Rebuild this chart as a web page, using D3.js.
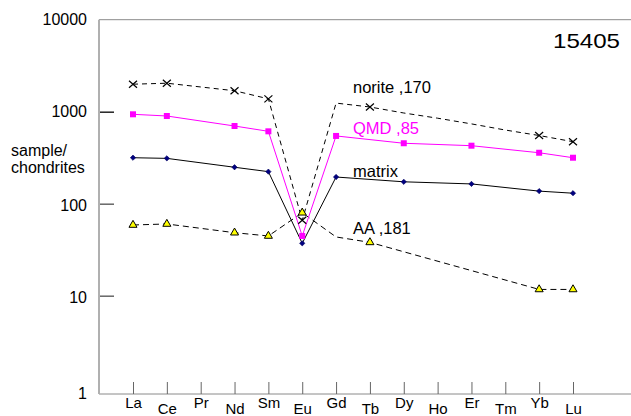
<!DOCTYPE html>
<html>
<head>
<meta charset="utf-8">
<script src="https://cdn.jsdelivr.net/npm/d3@7"></script>
<style>
  html, body { margin: 0; padding: 0; background: #fff; }
  svg { display: block; font-family: "Liberation Sans", Arial, sans-serif; }
</style>
</head>
<body>
<svg id="chart" width="631" height="416"></svg>
<script>
// ---- data ----
const elements = ["La","Ce","Pr","Nd","Sm","Eu","Gd","Tb","Dy","Ho","Er","Tm","Yb","Lu"];
const yTickValues = [1, 10, 100, 1000, 10000];
const yTickLabels = ["1", "10", "100", "1000", "10000"];

const noriteValues = [1990, 2040, null, 1690, 1380, 66, 1240, 1125, 968, 850, 737, 632, 551, 472];
const noriteMarked = [1, 1, 0, 1, 1, 1, 0, 1, 0, 0, 0, 0, 1, 1];
const qmdValues    = [937, 898, null, 699, 612, 44.6, 545, null, 454, null, 427, null, 358, 316];
const matrixValues = [316, 311, null, 249, 223, 37.1, 195, null, 173, null, 164, null, 137, 130];
const aaValues     = [58.7, 60.2, null, 48.4, 44.6, 79.8, 43.5, 38.0, null, null, null, null, 11.7, 11.7];
const aaMarked     = [1, 1, 0, 1, 1, 1, 0, 1, 0, 0, 0, 0, 1, 1];

const seriesLabels = ["norite ,170", "QMD ,85", "matrix", "AA ,181"];
const sampleName = "15405";
const yTitle = ["sample/", "chondrites"];

// ---- layout ----
const svg = d3.select("#chart");
const plotLeft = 99, plotTop = 19.7, plotBottom = 394, plotRight = 631;

const x = d3.scalePoint().domain(elements).range([133, 573]);
const y = d3.scaleLog().domain([1, 10000]).range([387.7, plotTop]);

// frame lines
svg.append("line").attr("x1", plotLeft).attr("x2", plotRight).attr("y1", plotTop).attr("y2", plotTop)
  .attr("stroke", "#8a8a8a").attr("stroke-width", 1);
svg.append("line").attr("x1", plotLeft).attr("x2", plotRight).attr("y1", plotBottom).attr("y2", plotBottom)
  .attr("stroke", "#8a8a8a").attr("stroke-width", 1);

// y axis
const yAxis = d3.axisLeft(y).tickValues(yTickValues)
  .tickFormat((d, i) => yTickLabels[i]).tickSize(-15).tickPadding(12);
const gy = svg.append("g").attr("transform", `translate(${plotLeft},0)`).call(yAxis);
gy.select(".domain").remove();
gy.selectAll(".tick line")
  .attr("stroke", d => d === 1000 ? "#222" : "#666")
  .attr("stroke-width", 1.5)
  .attr("display", d => (d === 1 || d === 10000) ? "none" : null);
gy.selectAll(".tick text")
  .attr("font-size", 16).attr("font-family", "Liberation Sans, Arial, sans-serif")
  .attr("fill", "#000")
  .attr("y", d => d === 1 ? (plotBottom - y(1) - 1) : (d === 10 || d === 100 ? 2 : 0));
svg.append("line").attr("x1", plotLeft).attr("x2", plotLeft).attr("y1", plotTop).attr("y2", plotBottom)
  .attr("stroke", "#b0b0b0").attr("stroke-width", 2);

// x axis
const xAxis = d3.axisBottom(x).tickSize(-12).tickPadding(0);
const gx = svg.append("g").attr("transform", `translate(0,${plotBottom})`).call(xAxis);
gx.select(".domain").remove();
gx.selectAll(".tick line").attr("stroke", "#666").attr("stroke-width", 1);
gx.selectAll(".tick text")
  .attr("font-size", 15).attr("font-family", "Liberation Sans, Arial, sans-serif")
  .attr("fill", "#000").attr("dy", null)
  .attr("y", (d, i) => i % 2 === 0 ? 14 : 20);

// y title
svg.append("text").attr("x", 11).attr("y", 156).attr("font-size", 16).text(yTitle[0]);
svg.append("text").attr("x", 11).attr("y", 173).attr("font-size", 16).text(yTitle[1]);

// sample name
svg.append("text").attr("x", 553).attr("y", 47.5).attr("font-size", 21)
  .attr("textLength", 67).attr("lengthAdjust", "spacingAndGlyphs").text(sampleName);

// lines
function pts(values) {
  return values.map((v, i) => ({ k: elements[i], v, i })).filter(d => d.v != null);
}
const line = d3.line().x(d => x(d.k)).y(d => y(d.v));

function drawLine(values, color, dash) {
  svg.append("path").datum(pts(values)).attr("d", line)
    .attr("fill", "none").attr("stroke", color).attr("stroke-width", 1)
    .attr("stroke-dasharray", dash || null);
}
drawLine(noriteValues, "#000", "5,4");
drawLine(aaValues, "#000", "6,4");
drawLine(matrixValues, "#000", null);
drawLine(qmdValues, "#ff00ff", null);

// markers
// norite crosses
svg.append("g").selectAll("path")
  .data(pts(noriteValues).filter(d => noriteMarked[d.i]))
  .join("path")
  .attr("transform", d => `translate(${x(d.k)},${y(d.v)})`)
  .attr("d", "M-4,-3.5L4,3.5M-4,3.5L4,-3.5")
  .attr("stroke", "#000").attr("stroke-width", 1.2).attr("fill", "none");

// AA triangles
svg.append("g").selectAll("path")
  .data(pts(aaValues).filter(d => aaMarked[d.i]))
  .join("path")
  .attr("transform", d => `translate(${x(d.k)},${y(d.v)})`)
  .attr("d", d3.symbol(d3.symbolTriangle, 28))
  .attr("fill", "#ffff00").attr("stroke", "#000").attr("stroke-width", 1);

// matrix diamonds
svg.append("g").selectAll("path")
  .data(pts(matrixValues))
  .join("path")
  .attr("transform", d => `translate(${x(d.k)},${y(d.v)})`)
  .attr("d", d3.symbol(d3.symbolSquare, 14))
  .attr("fill", "#000080").attr("stroke", "#000060").attr("stroke-width", 0.6)
  .attr("transform", d => `translate(${x(d.k)},${y(d.v)}) rotate(45)`);

// QMD squares
svg.append("g").selectAll("path")
  .data(pts(qmdValues))
  .join("path")
  .attr("transform", d => `translate(${x(d.k)},${y(d.v)})`)
  .attr("d", d3.symbol(d3.symbolSquare, 36))
  .attr("fill", "#ff00ff");

// series labels
const labelY = [93, 134, 177, 234];
const labelColor = ["#000", "#ff00ff", "#000", "#000"];
svg.append("g").selectAll("text").data(seriesLabels).join("text")
  .attr("x", 353).attr("y", (d, i) => labelY[i])
  .attr("font-size", 16.5).attr("fill", (d, i) => labelColor[i])
  .text(d => d);
</script>
</body>
</html>
